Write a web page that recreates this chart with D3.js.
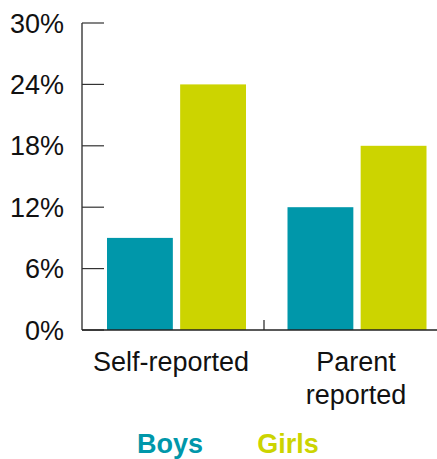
<!DOCTYPE html>
<html>
<head>
<meta charset="utf-8">
<script src="https://cdn.jsdelivr.net/npm/d3@7.9.0/dist/d3.min.js"></script>
<style>
  body { margin: 0; background: #fff; }
  text { font-family: "Liberation Sans", Arial, sans-serif; }
</style>
</head>
<body>
<svg id="chart" width="437" height="459"></svg>
<script>
const categories = [["Self-reported"], ["Parent", "reported"]];
const series = ["Boys", "Girls"];
const boys = [9, 12];
const girls = [24, 18];
const yTicks = [0, 6, 12, 18, 24, 30];

const colors = { Boys: "#0097aa", Girls: "#ccd400" };

const svg = d3.select("#chart");

const y = d3.scaleLinear().domain([0, 30]).range([330, 23]);
const x0 = d3.scaleBand().domain([0, 1]).range([85, 446]).paddingInner(0).paddingOuter(0);
const x1 = d3.scaleBand().domain(series).range([22, 161]).paddingInner(0.1);

// bars
const rows = categories.map((c, i) => ({ i, values: [{ s: "Boys", v: boys[i] }, { s: "Girls", v: girls[i] }] }));
const g = svg.append("g");
g.selectAll("g.grp")
  .data(rows)
  .join("g")
  .attr("class", "grp")
  .attr("transform", d => `translate(${x0(d.i)},0)`)
  .selectAll("rect")
  .data(d => d.values)
  .join("rect")
  .attr("x", d => x1(d.s))
  .attr("width", x1.bandwidth())
  .attr("y", d => y(d.v))
  .attr("height", d => y(0) - y(d.v))
  .attr("fill", d => colors[d.s]);

// left axis
svg.append("line")
  .attr("x1", 82).attr("x2", 82)
  .attr("y1", y(30)).attr("y2", y(0))
  .attr("stroke", "#444").attr("stroke-width", 1.5);

svg.selectAll("line.ytick")
  .data(yTicks)
  .join("line")
  .attr("class", "ytick")
  .attr("x1", 82).attr("x2", 104)
  .attr("y1", d => y(d)).attr("y2", d => y(d))
  .attr("stroke", "#333").attr("stroke-width", 1.2);

svg.selectAll("text.ylab")
  .data(yTicks)
  .join("text")
  .attr("class", "ylab")
  .attr("x", 64)
  .attr("y", d => y(d) + 9.5)
  .attr("text-anchor", "end")
  .attr("font-size", 27)
  .attr("fill", "#111")
  .text(d => d + "%");

// bottom axis
svg.append("line")
  .attr("x1", 82).attr("x2", 437)
  .attr("y1", y(0)).attr("y2", y(0))
  .attr("stroke", "#222").attr("stroke-width", 1.5);

svg.append("line")
  .attr("x1", 264).attr("x2", 264)
  .attr("y1", y(0) - 10).attr("y2", y(0))
  .attr("stroke", "#222").attr("stroke-width", 1.2);

// category labels
const labelX = [171, 356];
svg.selectAll("text.xlab")
  .data(categories)
  .join("text")
  .attr("class", "xlab")
  .attr("x", (d, i) => labelX[i])
  .attr("y", 371)
  .attr("text-anchor", "middle")
  .attr("font-size", 27)
  .attr("fill", "#111")
  .selectAll("tspan")
  .data(d => d)
  .join("tspan")
  .attr("x", function () { return d3.select(this.parentNode).attr("x"); })
  .attr("dy", (d, i) => i === 0 ? 0 : 33)
  .text(d => d);

// legend
const legendX = [170, 288];
svg.selectAll("text.leg")
  .data(series)
  .join("text")
  .attr("class", "leg")
  .attr("x", (d, i) => legendX[i])
  .attr("y", 453)
  .attr("text-anchor", "middle")
  .attr("font-size", 27)
  .attr("font-weight", "bold")
  .attr("fill", d => colors[d])
  .text(d => d);
</script>
</body>
</html>
